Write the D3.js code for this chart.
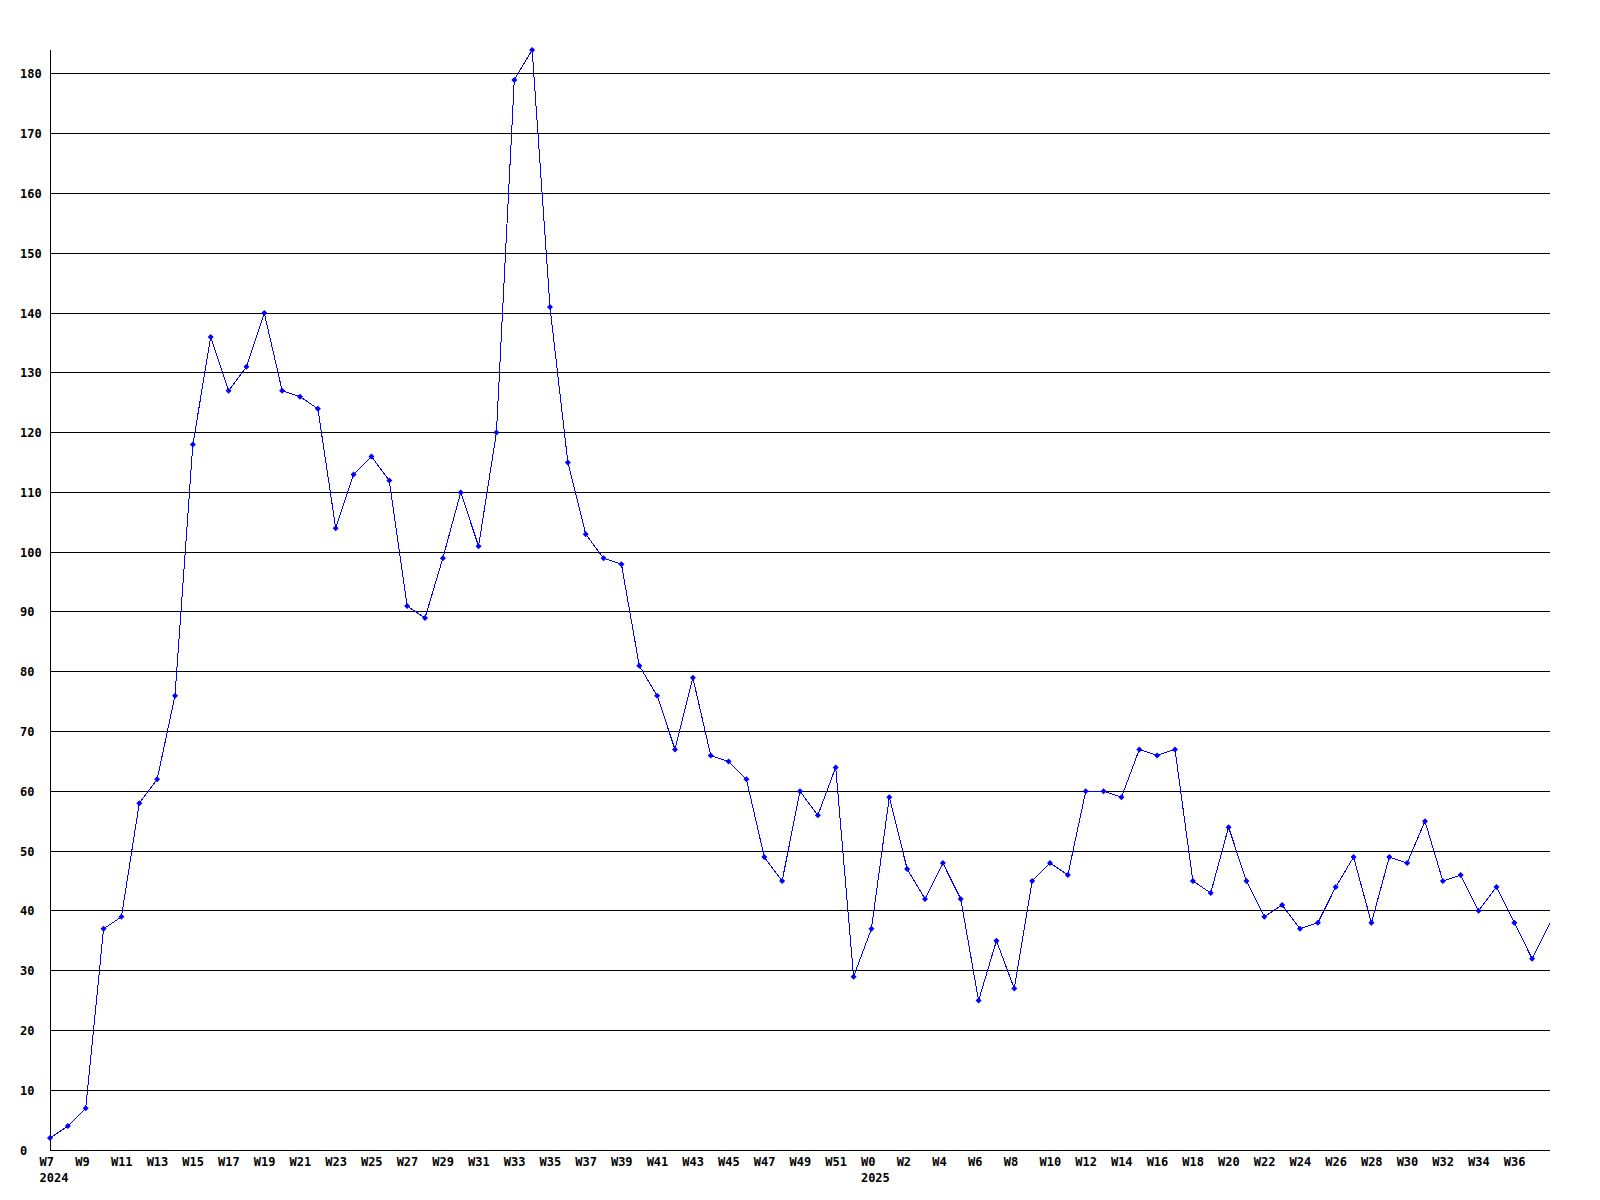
<!DOCTYPE html>
<html>
<head>
<meta charset="utf-8">
<script src="https://cdn.jsdelivr.net/npm/d3@7"></script>
<style>
  html, body { margin: 0; padding: 0; background: #fff; }
  svg { display: block; }
  text { font-family: "DejaVu Sans Mono", "Liberation Mono", monospace; font-weight: bold; font-size: 12px; fill: #000; }
</style>
</head>
<body>
<svg id="chart" width="1600" height="1200"></svg>
<script>
// ---- data ----
const weeks2024 = ["W7","W8","W9","W10","W11","W12","W13","W14","W15","W16","W17","W18","W19","W20","W21","W22","W23","W24","W25","W26","W27","W28","W29","W30","W31","W32","W33","W34","W35","W36","W37","W38","W39","W40","W41","W42","W43","W44","W45","W46","W47","W48","W49","W50","W51","W52"];
const weeks2025 = ["W0","W1","W2","W3","W4","W5","W6","W7","W8","W9","W10","W11","W12","W13","W14","W15","W16","W17","W18","W19","W20","W21","W22","W23","W24","W25","W26","W27","W28","W29","W30","W31","W32","W33","W34","W35","W36","W37","W38"];
const values2024 = [2,4,7,37,39,58,62,76,118,136,127,131,140,127,126,124,104,113,116,112,91,89,99,110,101,120,179,184,141,115,103,99,98,81,76,67,79,66,65,62,49,45,60,56,64,29];
const values2025 = [37,59,47,42,48,42,25,35,27,45,48,46,60,60,59,67,66,67,45,43,54,45,39,41,37,38,44,49,38,49,48,55,45,46,40,44,38,32,38];
const yearLabels = [{week: "W7", year: "2024"}, {week: "W0", year: "2025"}];
const yTicks = [0,10,20,30,40,50,60,70,80,90,100,110,120,130,140,150,160,170,180];

// ---- build ----
const categories = weeks2024.map(w => ({w, y: "2024"})).concat(weeks2025.map(w => ({w, y: "2025"})));
const values = values2024.concat(values2025);
const data = values.map((v, i) => ({i, v, label: categories[i].w, year: categories[i].y}));

const svg = d3.select("#chart");
const plotLeft = 50, plotRight = 1550, plotTop = 50, plotBottom = 1150;

const x = d3.scaleLinear().domain([0, data.length - 1]).range([plotLeft, plotRight]);
const y = d3.scaleLinear().domain([0, 184]).range([plotBottom, plotTop]);

// grid lines
svg.append("g").selectAll("line")
  .data(yTicks.filter(t => t > 0))
  .join("line")
  .attr("x1", plotLeft).attr("x2", plotRight)
  .attr("y1", d => Math.floor(y(d)) + 0.5).attr("y2", d => Math.floor(y(d)) + 0.5)
  .attr("stroke", "#000").attr("stroke-width", 1)
  .attr("shape-rendering", "crispEdges");

// y labels
svg.append("g").selectAll("text")
  .data(yTicks)
  .join("text")
  .attr("x", 20)
  .attr("y", d => Math.floor(y(d)) + 4.5)
  .text(d => d);

// axes lines
svg.append("line").attr("x1", plotLeft + 0.5).attr("x2", plotLeft + 0.5).attr("y1", plotTop).attr("y2", plotBottom + 0.5)
  .attr("stroke", "#000").attr("shape-rendering", "crispEdges");
svg.append("line").attr("x1", plotLeft).attr("x2", plotRight).attr("y1", plotBottom + 0.5).attr("y2", plotBottom + 0.5)
  .attr("stroke", "#000").attr("shape-rendering", "crispEdges");

// x labels (every other week)
const xl = svg.append("g");
xl.selectAll("text.wk")
  .data(data.filter(d => d.i % 2 === 0 && d.i < data.length - 1))
  .join("text")
  .attr("class", "wk")
  .attr("x", d => x(d.i) - 10.5)
  .attr("y", 1166)
  .text(d => d.label);
xl.selectAll("text.yr")
  .data(yearLabels.map(yl => data.find(d => d.label === yl.week && d.year === yl.year)))
  .join("text")
  .attr("class", "yr")
  .attr("x", d => x(d.i) - 10.5)
  .attr("y", 1182)
  .text(d => d.year);

// line
const line = d3.line().x(d => x(d.i)).y(d => y(d.v));
svg.append("path")
  .datum(data)
  .attr("d", line)
  .attr("fill", "none")
  .attr("stroke", "#0000ff")
  .attr("stroke-width", 1)
  .attr("shape-rendering", "crispEdges");

// markers (last point unmarked)
svg.append("g").selectAll("path")
  .data(data.slice(0, data.length - 1))
  .join("path")
  .attr("d", d => {
    const cx = x(d.i), cy = y(d.v), r = 3;
    return `M${cx - r},${cy}L${cx},${cy - r}L${cx + r},${cy}L${cx},${cy + r}Z`;
  })
  .attr("fill", "#0000ff");
</script>
</body>
</html>
